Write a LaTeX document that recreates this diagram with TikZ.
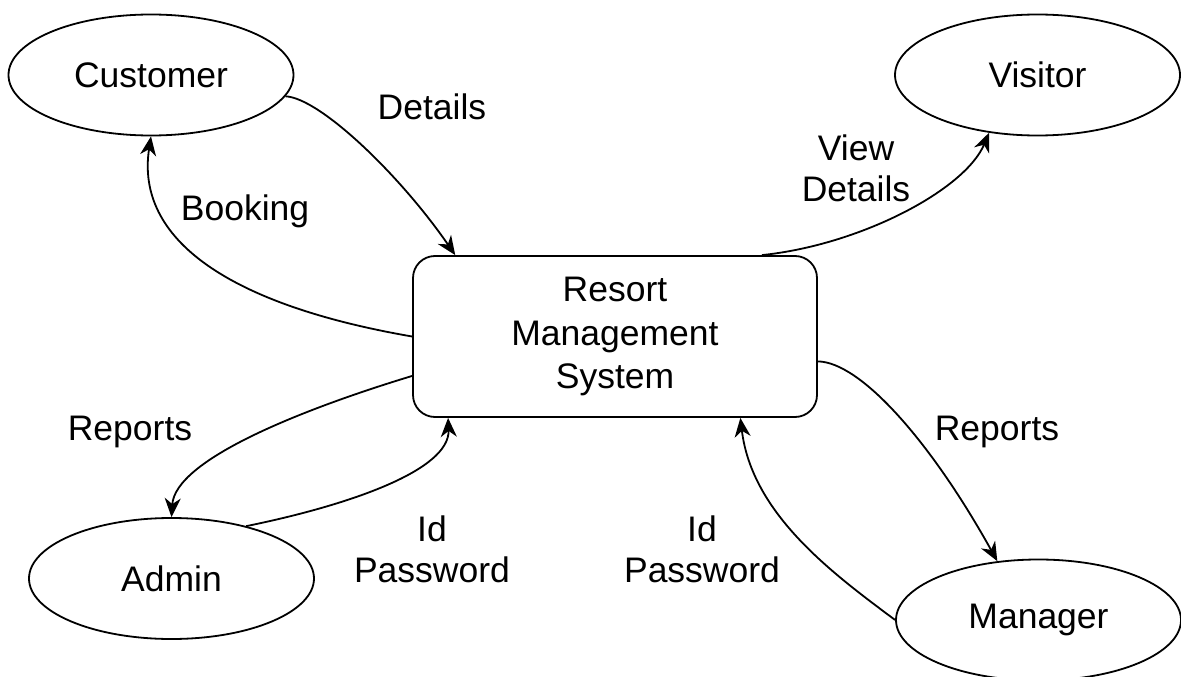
\documentclass[tikz,border=0pt]{standalone}
\usepackage{fontspec}
\setmainfont{Liberation Sans}
\usetikzlibrary{arrows.meta,shapes.geometric}
\begin{document}
\begin{tikzpicture}[x=1pt,y=-1pt,line width=1.8pt,
  every node/.style={font=\fontsize{35.5}{41}\selectfont},
  actor/.style={draw,ellipse,minimum width=285pt,minimum height=121pt,inner sep=0pt},
  proc/.style={draw,rectangle,rounded corners=22pt,minimum width=404pt,minimum height=161pt,
    align=center,font=\fontsize{35.5}{43.5}\selectfont},
  lbl/.style={anchor=north,inner sep=0pt,align=center},
  flow/.style={-{Stealth[length=19pt,width=16pt,inset=6pt]}}]
\useasboundingbox (0,0) rectangle (1181,677);
\fill[white] (0,0) rectangle (1181,677);

\node[actor] (cust) at (151,75) {Customer};
\node[actor] (vis) at (1037.5,75) {Visitor};
\node[actor] (adm) at (171.5,578.5) {Admin};
\node[actor] (man) at (1038.5,620) {Manager};
\node[proc] (sys) at (615,336.5) {Resort\\Management\\System};

\node[lbl] (lDet) at (432,93) {Details};
\node[lbl] (lBook) at (245,194) {Booking};
\node[lbl] (lView) at (856,134) {View\\Details};
\node[lbl] (lRepL) at (130,415) {Reports};
\node[lbl] (lRepR) at (997,415) {Reports};
\node[lbl] (lIdL) at (432,515) {Id\\Password};
\node[lbl] (lIdR) at (702,515) {Id\\Password};

\draw[flow] (cust.-9.7) .. controls (320,98) and (400,175) .. (sys.153);
\draw[flow] (sys.180) .. controls (230,305) and (135,240) .. (cust.south);
\draw[flow] (sys.29) .. controls (860,245) and (965,190) .. (vis.-130);
\draw[flow] (sys.191.3) .. controls (300,410) and (175,460) .. (adm.north);
\draw[flow] (adm.35) .. controls (350,505) and (450,470) .. (sys.206.7);
\draw[flow] (sys.-7.2) .. controls (860,362) and (930,440) .. (man.125);
\draw[flow] (man.west) .. controls (835,575) and (752,515) .. (sys.-33.2);
\end{tikzpicture}
\end{document}
